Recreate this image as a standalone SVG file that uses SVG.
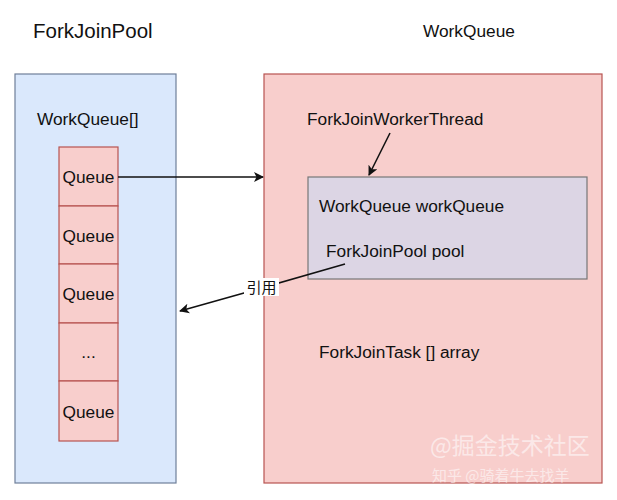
<svg xmlns="http://www.w3.org/2000/svg" width="617" height="500" viewBox="0 0 617 500">
<defs>
<style>
text{font-family:"Liberation Sans",Arial,"Noto Sans CJK SC",sans-serif;fill:#111;}
.t{font-size:17.3px;}
.c{text-anchor:middle;}
.cell{fill:#f8cecc;stroke:#b85450;stroke-width:1.2;}
.con{stroke:#111;stroke-width:1.6;fill:none;}
.wm{fill:#fff;opacity:0.55;font-family:"Noto Sans CJK SC",sans-serif;}
</style>
<marker id="ah" viewBox="0 0 10 10" refX="9" refY="5" markerWidth="10" markerHeight="10" markerUnits="userSpaceOnUse" orient="auto">
<path d="M0,0 L10,5 L0,10 L2.5,5 Z" fill="#111"/>
</marker>
</defs>
<rect width="617" height="500" fill="#fff"/>
<g id="pool">
<rect x="15" y="74" width="161" height="409" fill="#dae8fc" stroke="#6f7f99" stroke-width="1.2"/>
<text x="33" y="38" style="font-size:20.5px">ForkJoinPool</text>
<text x="37" y="125" class="t">WorkQueue[]</text>
</g>
<g id="queues">
<g id="q1"><rect class="cell" x="59" y="147" width="59" height="59"/><text class="t c" x="88.5" y="183">Queue</text></g>
<g id="q2"><rect class="cell" x="59" y="206" width="59" height="58"/><text class="t c" x="88.5" y="241.5">Queue</text></g>
<g id="q3"><rect class="cell" x="59" y="264" width="59" height="59"/><text class="t c" x="88.5" y="300">Queue</text></g>
<g id="q4"><rect class="cell" x="59" y="323" width="59" height="58"/><text class="t c" x="88.5" y="358">...</text></g>
<g id="q5"><rect class="cell" x="59" y="381" width="59" height="60"/><text class="t c" x="88.5" y="417.5">Queue</text></g>
</g>
<g id="workqueue">
<rect x="264" y="74" width="338" height="409" fill="#f8cecc" stroke="#b85450" stroke-width="1.2"/>
<text x="423" y="37" class="t">WorkQueue</text>
<text x="307" y="125" class="t">ForkJoinWorkerThread</text>
<text x="319" y="358" class="t">ForkJoinTask [] array</text>
</g>
<g id="thread">
<rect x="308" y="177" width="279" height="102" fill="#dcd5e4" stroke="#777" stroke-width="1.2"/>
<text x="319" y="212" class="t">WorkQueue workQueue</text>
<text x="326" y="257" class="t">ForkJoinPool pool</text>
</g>
<g id="connectors">
<line class="con" x1="118" y1="177" x2="263" y2="177" marker-end="url(#ah)"/>
<line class="con" x1="390" y1="133" x2="369" y2="175" marker-end="url(#ah)"/>
<path class="con" d="M345,264 L244,293 L180,311" marker-end="url(#ah)"/>
<rect x="244" y="278" width="35" height="18" fill="#fff"/>
<text x="261.5" y="293" class="c" style="font-size:15px">引用</text>
</g>
<g id="watermark">
<text class="wm" x="430" y="454" style="font-size:23px">@掘金技术社区</text>
<text class="wm" x="432" y="481" style="font-size:15px">知乎 @骑着牛去找羊</text>
</g>
</svg>
